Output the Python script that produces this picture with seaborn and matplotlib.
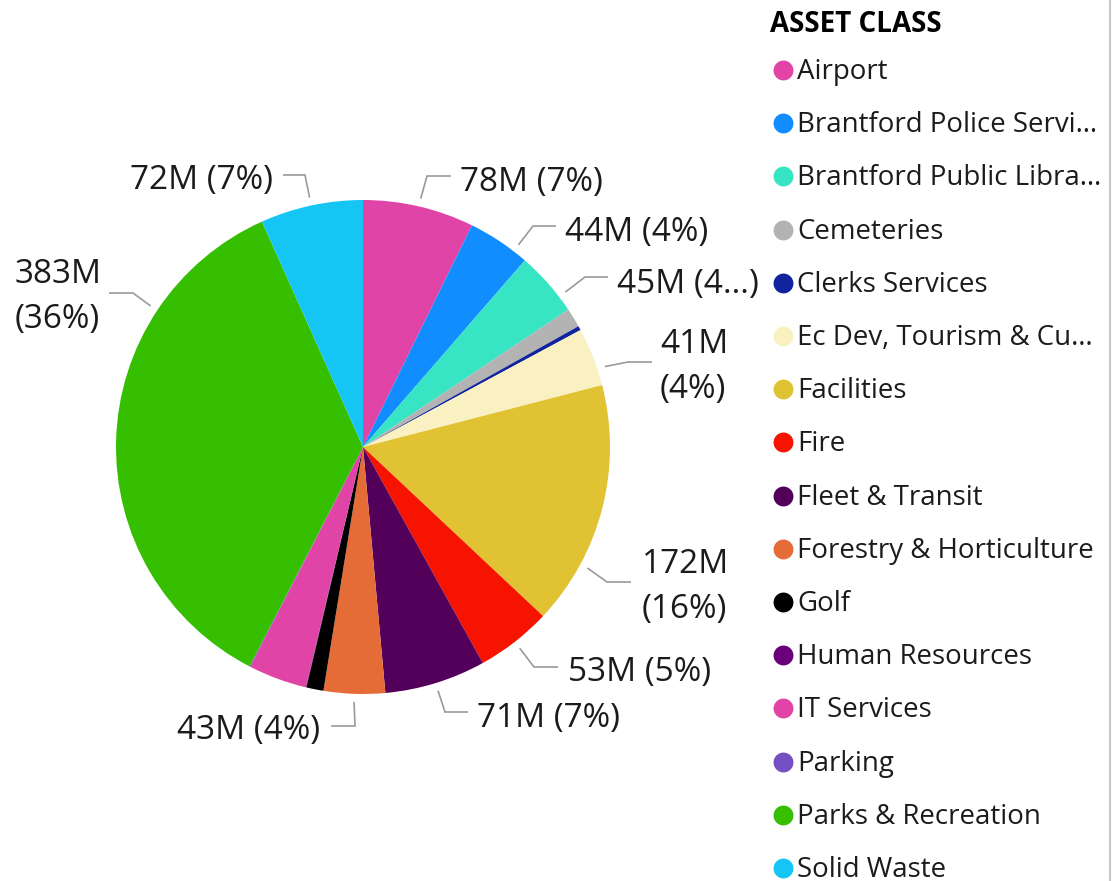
import matplotlib
matplotlib.use("Agg")
import matplotlib.pyplot as plt
import numpy as np
import seaborn as sns

# ---------------- data ----------------
categories = [
    "Airport", "Brantford Police Servi…", "Brantford Public Libra…", "Cemeteries",
    "Clerks Services", "Ec Dev, Tourism & Cu…", "Facilities", "Fire",
    "Fleet & Transit", "Forestry & Horticulture", "Golf", "Human Resources",
    "IT Services", "Parking", "Parks & Recreation", "Solid Waste",
]
values_m = [78, 44, 45.5, 13.5, 3, 41, 172, 53, 71, 43, 12, 0.4, 41, 0.6, 383, 72]
colors = [
    "#E044A7", "#118DFF", "#37E4C3", "#B3B3B3", "#12239E", "#FAF1C2", "#E1C233",
    "#F61400", "#52005A", "#E66C37", "#000000", "#6B007B", "#E044A7", "#744EC2",
    "#36BF00", "#15C6F4",
]
legend_title = "ASSET CLASS"

# data labels shown on the chart (slice index -> text)
label_slices = [0, 1, 2, 5, 6, 7, 8, 9, 14, 15]
label_texts = ["78M (7%)", "44M (4%)", "45M (4…)", "41M\n(4%)", "172M\n(16%)",
               "53M (5%)", "71M (7%)", "43M (4%)", "383M\n(36%)", "72M (7%)"]

# ---------------- layout (pixel space) ----------------
W, H = 1114, 881
CX, CY, R = 363, 447, 247
LEADER_R = 255
# per label: angle offset of leader start (deg), elbow point, line end x, text x, text y, ha
leader_offsets = [0, 4, 4, 3, 14, 0, 0, 0, 32, 0]
elbows = [(427, 176), (533, 226), (585, 277), (628, 362), (607, 582),
          (534, 667), (445, 712), (355, 726), (133, 293), (305, 175)]
line_end_x = [451, 556, 608, 652, 631, 558, 468, 331, 109, 283]
text_xy = [(460, 183), (565, 233), (617, 285), (660, 367), (642, 587),
           (568, 672), (477, 718), (320, 731), (15, 297), (273, 181)]
text_ha = ["left", "left", "left", "left", "left", "left", "left", "right", "left", "right"]

sns.set_theme(style="white")
plt.rcParams["font.family"] = ["Open Sans", "DejaVu Sans"]

fig = plt.figure(figsize=(W / 100, H / 100), dpi=100)
ax = fig.add_axes([0, 0, 1, 1])

wedges, _ = ax.pie(
    values_m, colors=colors, startangle=-90, counterclock=True,
    center=(CX, CY), radius=R, wedgeprops=dict(linewidth=0),
)
ax.set_xlim(0, W)
ax.set_ylim(H, 0)
ax.set_aspect("equal", adjustable="box")
ax.axis("off")

TXT = "#1b1b1b"
LINE = "#9a9a9a"
for k, si in enumerate(label_slices):
    w = wedges[si]
    th = np.deg2rad((w.theta1 + w.theta2) / 2 + leader_offsets[k])
    sx, sy = CX + LEADER_R * np.cos(th), CY + LEADER_R * np.sin(th)
    ex, ey = elbows[k]
    ax.plot([sx, ex, line_end_x[k]], [sy, ey, ey], color=LINE, lw=1.2,
            solid_capstyle="butt", solid_joinstyle="miter")
    tx, ty = text_xy[k]
    ax.text(tx, ty, label_texts[k], ha=text_ha[k], va="center", fontsize=24,
            color=TXT, linespacing=1.45)

# legend
ax.text(770, 25, legend_title, ha="left", va="center", fontsize=20,
        fontweight="bold", color="#000000")
for i, (name, c) in enumerate(zip(categories, colors)):
    y = 70 + 53.2 * i
    ax.scatter([782.5], [y], s=205, color=c, linewidths=0, zorder=3)
    ax.text(797, y + 2, name, ha="left", va="center", fontsize=19.9, color=TXT)

# right border
ax.plot([1110, 1110], [0, H], color="#c8c8c8", lw=1.5)

fig.savefig("out.png", dpi=100, facecolor="white")
